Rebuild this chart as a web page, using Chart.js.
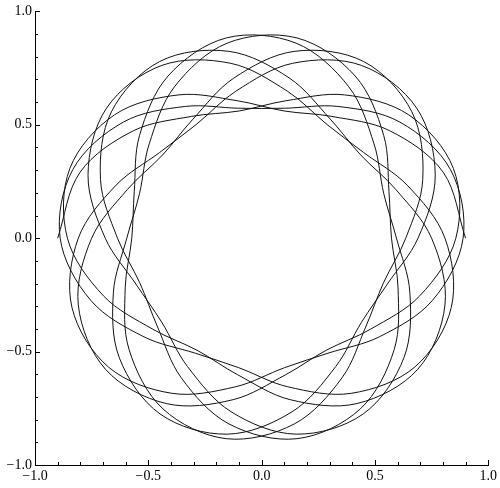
<!DOCTYPE html>
<html><head><meta charset="utf-8">
<script src="https://cdn.jsdelivr.net/npm/chart.js@4"></script>
<style>html,body{margin:0;padding:0;background:#fff}canvas{display:block}</style>
</head><body>
<canvas id="c" width="500" height="488"></canvas>
<script>
const curveX = [0.900,0.801,0.565,0.310,0.099,-0.107,-0.365,-0.649,-0.846,-0.857,-0.698,-0.479,-0.285,-0.106,0.126,0.421,0.689,0.809,
0.750,0.592,0.437,0.303,0.124,-0.145,-0.450,-0.663,-0.711,-0.636,-0.538,-0.461,-0.355,-0.144,0.156,0.435,0.585,0.602,
0.573,0.562,0.539,0.413,0.156,-0.152,-0.385,-0.496,-0.539,-0.595,-0.654,-0.628,-0.448,-0.152,0.135,0.327,0.441,0.555,
0.690,0.766,0.684,0.440,0.136,-0.114,-0.289,-0.450,-0.642,-0.809,-0.837,-0.676,-0.395,-0.115,0.101,0.293,0.519,0.754,
0.889,0.833,0.610,0.336,0.101,-0.101,-0.336,-0.610,-0.833,-0.889,-0.754,-0.519,-0.293,-0.101,0.115,0.395,0.676,0.837,
0.809,0.642,0.450,0.289,0.114,-0.136,-0.440,-0.684,-0.766,-0.690,-0.555,-0.441,-0.327,-0.135,0.152,0.448,0.628,0.654,
0.595,0.539,0.496,0.385,0.152,-0.156,-0.413,-0.539,-0.562,-0.573,-0.602,-0.585,-0.435,-0.156,0.144,0.355,0.461,0.538,
0.636,0.711,0.663,0.450,0.145,-0.124,-0.303,-0.437,-0.592,-0.750,-0.809,-0.689,-0.421,-0.126,0.106,0.285,0.479,0.698,
0.857,0.846,0.649,0.365,0.107,-0.099,-0.310,-0.565,-0.801,-0.900];
const curveY = [0.000,0.291,0.474,0.537,0.561,0.606,0.632,0.544,0.308,0.000,-0.254,-0.402,-0.494,-0.602,-0.712,-0.729,-0.578,-0.294,
0.000,0.215,0.367,0.525,0.705,0.824,0.779,0.557,0.259,0.000,-0.196,-0.387,-0.615,-0.819,-0.884,-0.753,-0.491,-0.219,
0.000,0.205,0.452,0.715,0.883,0.860,0.667,0.416,0.196,0.000,-0.238,-0.527,-0.775,-0.864,-0.765,-0.566,-0.370,-0.202,
0.000,0.279,0.574,0.762,0.771,0.648,0.501,0.378,0.234,0.000,-0.305,-0.568,-0.684,-0.655,-0.571,-0.507,-0.435,-0.274,
0.000,0.303,0.512,0.581,0.573,0.573,0.581,0.512,0.303,0.000,-0.274,-0.435,-0.507,-0.571,-0.655,-0.684,-0.568,-0.305,
0.000,0.234,0.378,0.501,0.648,0.771,0.762,0.574,0.279,0.000,-0.202,-0.370,-0.566,-0.765,-0.864,-0.775,-0.527,-0.238,
0.000,0.196,0.416,0.667,0.860,0.883,0.715,0.452,0.205,0.000,-0.219,-0.491,-0.753,-0.884,-0.819,-0.615,-0.387,-0.196,
0.000,0.259,0.557,0.779,0.824,0.705,0.525,0.367,0.215,0.000,-0.294,-0.578,-0.729,-0.712,-0.602,-0.494,-0.402,-0.254,
0.000,0.308,0.544,0.632,0.606,0.561,0.537,0.474,0.291,0.000];
const majorTicks = [-1, -0.5, 0, 0.5, 1];
const tickLabels = ["\u22121.0", "\u22120.5", "0.0", "0.5", "1.0"];
const minorTicks = [-0.9,-0.8,-0.7,-0.6,-0.4,-0.3,-0.2,-0.1,0.1,0.2,0.3,0.4,0.6,0.7,0.8,0.9];

const points = curveX.map((x, i) => ({ x: x, y: curveY[i] }));
function labelFor(v) {
  const i = majorTicks.findIndex(t => Math.abs(t - v) < 1e-9);
  return i >= 0 ? tickLabels[i] : '';
}

const inwardTicks = {
  id: 'inwardTicks',
  afterDraw(chart) {
    const ctx = chart.ctx, a = chart.chartArea, xs = chart.scales.x, ys = chart.scales.y;
    ctx.save();
    ctx.strokeStyle = '#000';
    ctx.lineWidth = 1;
    ctx.beginPath();
    const draw = (vals, len) => {
      vals.forEach(v => {
        const px = Math.round(xs.getPixelForValue(v)) + 0.5;
        ctx.moveTo(px, a.bottom); ctx.lineTo(px, a.bottom - len);
        const py = Math.round(ys.getPixelForValue(v)) + 0.5;
        ctx.moveTo(a.left, py); ctx.lineTo(a.left + len, py);
      });
    };
    draw(majorTicks, 5);
    draw(minorTicks, 3);
    ctx.stroke();
    ctx.restore();
  }
};

const tickFont = { family: "'Liberation Serif', 'Times New Roman', serif", size: 14 };
new Chart(document.getElementById('c'), {
  type: 'scatter',
  data: { datasets: [{ data: points, showLine: true, borderColor: '#111', borderWidth: 1, pointRadius: 0, tension: 0.34, fill: false }] },
  options: {
    responsive: false, animation: false, devicePixelRatio: 1,
    layout: { padding: { left: 0, top: 9, right: 11, bottom: 0 } },
    plugins: { legend: { display: false }, tooltip: { enabled: false } },
    scales: {
      x: {
        type: 'linear', min: -1, max: 1, position: 'bottom',
        grid: { display: false, drawTicks: false, tickLength: 0 },
        border: { display: true, color: '#000', width: 1 },
        ticks: { stepSize: 0.5, color: '#000', padding: 3, font: tickFont, callback: labelFor, maxRotation: 0, autoSkip: false },
        afterFit(s) { s.height = 23; }
      },
      y: {
        type: 'linear', min: -1, max: 1, position: 'left',
        grid: { display: false, drawTicks: false, tickLength: 0 },
        border: { display: true, color: '#000', width: 1 },
        ticks: { stepSize: 0.5, color: '#000', padding: 3, font: tickFont, callback: labelFor, autoSkip: false },
        afterFit(s) { s.width = 35; }
      }
    }
  },
  plugins: [inwardTicks]
});
</script>
</body></html>
